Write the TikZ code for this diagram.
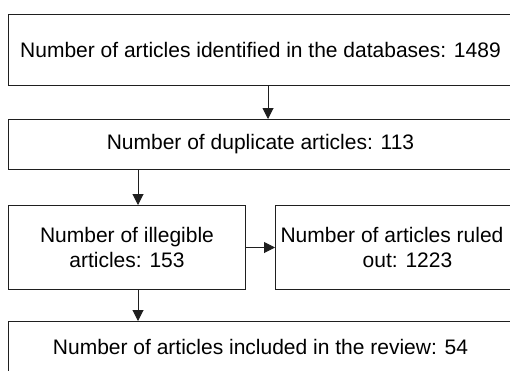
\documentclass[tikz,border=0pt]{standalone}
\usepackage{fontspec}
\setmainfont{Liberation Sans}
\usetikzlibrary{arrows.meta}
\begin{document}
\begin{tikzpicture}[x=1pt,y=-1pt,
  box/.style={draw=black!88, line width=1pt, rectangle, anchor=north west, inner sep=0pt,
    font=\fontsize{21}{25}\selectfont, align=center},
  arr/.style={draw=black!88, line width=1pt, -{Triangle[length=11pt,width=11pt]}}]
\useasboundingbox (0,0) rectangle (510,370);
\clip (0,0) rectangle (510,370);
\node[box, minimum width=504pt, minimum height=71pt] (b1) at (8,14)
  {Number of articles identified in the databases: 1489};
\node[box, minimum width=504pt, minimum height=50pt] (b2) at (8,119)
  {Number of duplicate articles: 113};
\node[box, minimum width=237pt, minimum height=84pt] (b3) at (8,205)
  {Number of illegible\\articles: 153};
\node[box, minimum width=264pt, minimum height=84pt] (b4) at (275,205)
  {Number of articles ruled\hspace*{31pt}\null\\out: 1223};
\node[box, minimum width=504pt, minimum height=50pt] (b5) at (8,321)
  {Number of articles included in the review: 54};
\coordinate (xa) at (268,0);
\coordinate (xb) at (138,0);
\draw[arr] (b1.south -| xa) -- (b2.north -| xa);
\draw[arr] (b2.south -| xb) -- (b3.north -| xb);
\draw[arr] (b3.east) -- (b4.west);
\draw[arr] (b3.south -| xb) -- (b5.north -| xb);
\end{tikzpicture}
\end{document}
